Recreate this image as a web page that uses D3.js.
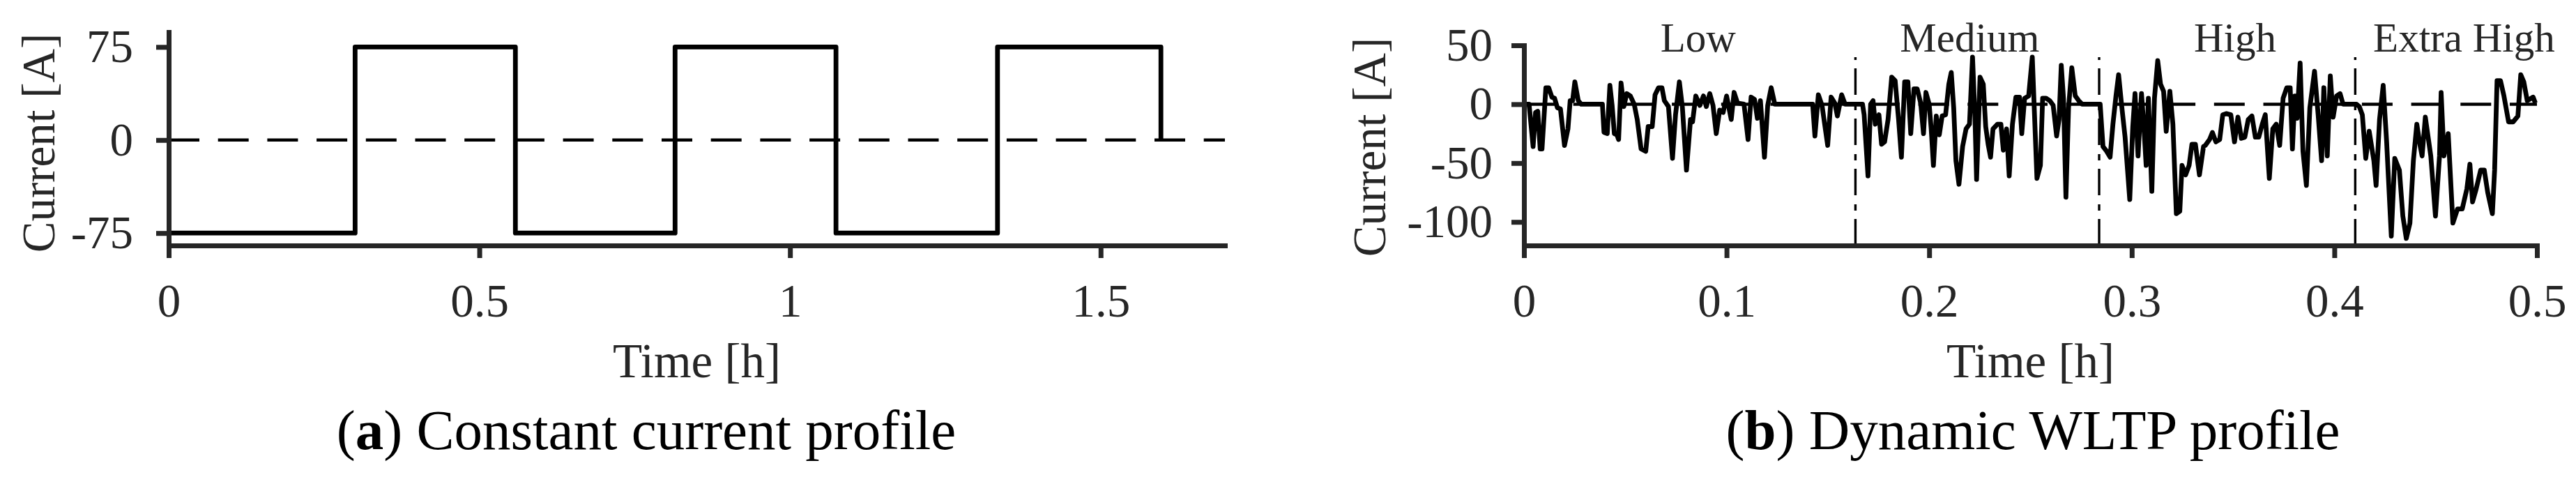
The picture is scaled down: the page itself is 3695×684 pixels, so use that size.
<!DOCTYPE html>
<html>
<head>
<meta charset="utf-8">
<script src="https://cdn.jsdelivr.net/npm/d3@7"></script>
<style>
  body { margin: 0; background: #fff; }
  svg text { font-family: "Liberation Serif", "DejaVu Serif", serif; }
</style>
</head>
<body>
<svg id="chart" width="3695" height="684"></svg>
<script>
// (a) constant current profile: switching instants [h] and the level held after each
const ccSwitchTimes = [0, 0.3, 0.558, 0.815, 1.074, 1.334, 1.597];
const ccLevels = [-75, 75, -75, 75, -75, 75, 0];
const ccTimeTicks = [0, 0.5, 1, 1.5];
const ccCurrentTicks = [-75, 0, 75];

// (b) WLTP current (time in h, current in A)
const wltpTime = [
  // low
  0.0000, 0.0025, 0.0045, 0.0057, 0.0068, 0.0080, 0.0089, 0.0108, 0.0122, 0.0138, 0.0151, 0.0165, 0.0180,
  0.0200, 0.0217, 0.0228, 0.0240, 0.0251, 0.0268, 0.0283, 0.0387, 0.0395, 0.0411, 0.0424, 0.0435, 0.0446,
  0.0459, 0.0467, 0.0479, 0.0493, 0.0507, 0.0525, 0.0544, 0.0559, 0.0578, 0.0601, 0.0613, 0.0633, 0.0647,
  0.0664, 0.0681, 0.0693, 0.0713, 0.0733, 0.0748, 0.0767, 0.0782, 0.0802, 0.0822, 0.0832, 0.0848, 0.0868,
  0.0886, 0.0900, 0.0917, 0.0933, 0.0949, 0.0966, 0.0983, 0.1000, 0.1023, 0.1037, 0.1054, 0.1086, 0.1106,
  0.1121, 0.1138, 0.1152, 0.1167, 0.1187, 0.1203, 0.1220, 0.1238, 0.1425, 0.1436, 0.1453, 0.1471, 0.1499,
  0.1516, 0.1534, 0.1547, 0.1568, 0.1585, 0.1671,
  // medium
  0.1679, 0.1698, 0.1711, 0.1723, 0.1734, 0.1752, 0.1765, 0.1780, 0.1797, 0.1815, 0.1832, 0.1849, 0.1863,
  0.1879, 0.1895, 0.1909, 0.1925, 0.1941, 0.1958, 0.1972, 0.1984, 0.2000, 0.2010, 0.2021, 0.2035, 0.2050,
  0.2064, 0.2081, 0.2097, 0.2109, 0.2121, 0.2132, 0.2147, 0.2165, 0.2182, 0.2199, 0.2214, 0.2226, 0.2234,
  0.2251, 0.2267, 0.2279, 0.2291, 0.2303, 0.2315, 0.2337, 0.2354, 0.2366, 0.2382, 0.2395, 0.2411, 0.2428,
  0.2446, 0.2457, 0.2471, 0.2491, 0.2509, 0.2532, 0.2549, 0.2560, 0.2577, 0.2595, 0.2612, 0.2629, 0.2641,
  0.2652, 0.2663, 0.2675, 0.2688, 0.2704, 0.2721, 0.2738, 0.2755, 0.2844,
  // high
  0.2858, 0.2876, 0.2893, 0.2907, 0.2922, 0.2935, 0.2950, 0.2967, 0.2990, 0.3005, 0.3016, 0.3031, 0.3048,
  0.3059, 0.3071, 0.3082, 0.3099, 0.3112, 0.3128, 0.3142, 0.3157, 0.3170, 0.3188, 0.3203, 0.3220, 0.3237,
  0.3248, 0.3266, 0.3283, 0.3297, 0.3314, 0.3334, 0.3354, 0.3363, 0.3384, 0.3398, 0.3415, 0.3434, 0.3449,
  0.3466, 0.3489, 0.3507, 0.3524, 0.3541, 0.3558, 0.3575, 0.3593, 0.3610, 0.3627, 0.3644, 0.3659, 0.3679,
  0.3696, 0.3713, 0.3730, 0.3747, 0.3765, 0.3782, 0.3793, 0.3805, 0.3816, 0.3831, 0.3845, 0.3862, 0.3879,
  0.3902, 0.3920, 0.3937, 0.3948, 0.3965, 0.3980, 0.3994, 0.4011, 0.4028, 0.4043, 0.4109,
  // extra high
  0.4123, 0.4138, 0.4155, 0.4172, 0.4195, 0.4206, 0.4223, 0.4241, 0.4258, 0.4281, 0.4298, 0.4321, 0.4338,
  0.4355, 0.4373, 0.4390, 0.4407, 0.4424, 0.4433, 0.4449, 0.4476, 0.4499, 0.4519, 0.4527, 0.4541, 0.4562,
  0.4585, 0.4608, 0.4631, 0.4654, 0.4669, 0.4682, 0.4700, 0.4722, 0.4740, 0.4757, 0.4780, 0.4791, 0.4803,
  0.4820, 0.4837, 0.4860, 0.4883, 0.4906, 0.4920, 0.4935, 0.4952, 0.4981, 0.4992
];
const wltpCurrent = [
  // low
  0, 0, -36, -7, -6, -38, -38, 14, 14, 6, 5, -3, -4,
  -35, -21, 3, 3, 19, 3, 0, 0, -24, -25, 16, -1, -25,
  -26, -30, 18, -2, 9, 7, 0, -13, -38, -40, -19, -19, 8,
  14, 14, 3, -2, -46, -9, 19, -3, -56, -13, -15, 7, -1,
  7, -2, 9, -1, -25, -5, -7, 7, -13, 10, 1, 0, -30,
  6, 4, -12, 3, -45, -1, 14, 0, 0, -27, 8, -1, -35,
  6, 1, -10, 8, 0, 0,
  // medium
  -9, -61, 0, 3, -17, -9, -34, -32, -13, 23, 20, -13, -45,
  19, 19, -25, 13, 13, 1, -25, 10, 0, -21, -52, -10, -26,
  -10, -9, 17, 27, -3, -48, -68, -36, -21, -17, 40, -11, -64,
  23, 17, -19, -34, -45, -21, -17, -17, -39, -21, -61, -17, 6,
  6, -25, 5, 7, 40, -63, -52, 5, 5, 3, -1, -27, -13,
  33, 5, -79, -3, 31, 7, 3, 0, 0,
  // high
  -36, -40, -45, -17, 7, 25, -1, -28, -81, -19, 9, -44, 9,
  -17, -52, 5, -74, 5, 37, 17, 11, -23, 11, -17, -93, -91,
  -52, -60, -52, -34, -34, -60, -36, -35, -30, -24, -32, -30, -9,
  -8, -9, -32, -11, -29, -28, -13, -10, -28, -28, -17, -9, -63,
  -21, -17, -35, 5, 14, 14, -38, 7, -12, 35, -40, -69, -3,
  28, -9, -48, 14, -44, 24, -11, 7, 9, 0, 0,
  // extra high
  -2, -9, -46, -23, -48, -69, -13, 16, -32, -112, -46, -56, -95,
  -114, -101, -48, -17, -36, -44, -11, -44, -95, -44, 10, -44, -25,
  -101, -89, -89, -72, -51, -83, -72, -56, -56, -75, -93, -56, 20,
  20, 7, -15, -15, -10, 25, 19, 3, 6, 1
];
const wltpTimeTicks = [0, 0.1, 0.2, 0.3, 0.4, 0.5];
const wltpCurrentTicks = [-100, -50, 0, 50];

// WLTP phases
const phaseBounds = [0.1636, 0.2839, 0.4103];
const phaseNames = ["Low", "Medium", "High", "Extra High"];
const phaseLabelAt = [0.086, 0.220, 0.351, 0.464];

const AXIS_COLOR = "#262626";
const svg = d3.select("#chart");

function drawPanel(p) {
    const x = d3.scaleLinear().domain(p.xDomain).range([p.left, p.right]);
    const y = d3.scaleLinear().domain(p.yDomain).range([p.bottom, p.top]);
    const g = svg.append("g");

    // dashed zero reference
    g.append("path")
        .datum(p.xDomain)
        .attr("d", d3.line().x(d => x(d)).y(() => y(0)))
        .attr("fill", "none")
        .attr("stroke", "#000")
        .attr("stroke-width", 4.5)
        .attr("stroke-dasharray", "44 26.7");

    if (p.extra) p.extra(g, x, y);

    // the trace itself
    g.append("path")
        .datum(p.xs.map((t, i) => [t, p.ys[i]]))
        .attr("d", d3.line().x(d => x(d[0])).y(d => y(d[1])).curve(p.curve || d3.curveLinear))
        .attr("fill", "none")
        .attr("stroke", "#000")
        .attr("stroke-width", 6.8)
        .attr("stroke-linejoin", "round");

    const xAxis = g.append("g")
        .attr("transform", `translate(0,${p.bottom})`)
        .call(d3.axisBottom(x).tickValues(p.xTicks).tickSize(18).tickSizeOuter(0).tickFormat(d => String(d)));
    xAxis.selectAll(".tick text").attr("y", 102).attr("dy", null);

    const yAxis = g.append("g")
        .attr("transform", `translate(${p.left},0)`)
        .call(d3.axisLeft(y).tickValues(p.yTicks).tickSize(18).tickSizeOuter(0)
            .tickPadding(p.yPad).tickFormat(d => String(d)));

    [xAxis, yAxis].forEach(a => {
        a.attr("font-family", null).attr("font-size", 67);
        a.select(".domain").attr("stroke", AXIS_COLOR).attr("stroke-width", 7).attr("stroke-linecap", "square");
        a.selectAll(".tick line").attr("stroke", AXIS_COLOR).attr("stroke-width", 7);
        a.selectAll(".tick text").attr("fill", AXIS_COLOR);
    });

    g.append("text")
        .attr("x", (p.left + p.right) / 2)
        .attr("y", 541)
        .attr("text-anchor", "middle")
        .attr("font-size", 69)
        .attr("fill", AXIS_COLOR)
        .text("Time [h]");

    g.append("text")
        .attr("transform", `translate(${p.ylabelX},${p.ylabelY}) rotate(-90)`)
        .attr("text-anchor", "middle")
        .attr("font-size", 67)
        .attr("fill", AXIS_COLOR)
        .text("Current [A]");

    const cap = g.append("text")
        .attr("x", p.captionX)
        .attr("y", 644)
        .attr("text-anchor", "middle")
        .attr("font-size", 81)
        .attr("fill", "#000");
    cap.append("tspan").text("(");
    cap.append("tspan").attr("font-weight", "bold").text(p.captionTag);
    cap.append("tspan").text(") " + p.caption);
}

drawPanel({
    xs: ccSwitchTimes, ys: ccLevels, curve: d3.curveStepAfter,
    xDomain: [0, 1.7], yDomain: [-85, 87],
    left: 242, right: 1757, top: 46, bottom: 352,
    xTicks: ccTimeTicks, yTicks: ccCurrentTicks, yPad: 33,
    ylabelX: 78, ylabelY: 205,
    captionX: 927, captionTag: "a", caption: "Constant current profile"
});

drawPanel({
    xs: wltpTime, ys: wltpCurrent,
    xDomain: [0, 0.5], yDomain: [-120, 50],
    left: 2186, right: 3639, top: 65, bottom: 352,
    xTicks: wltpTimeTicks, yTicks: wltpCurrentTicks, yPad: 27,
    ylabelX: 1987, ylabelY: 211,
    captionX: 2916, captionTag: "b", caption: "Dynamic WLTP profile",
    extra: (g, x, y) => {
        // dash-dot phase boundaries
        g.selectAll(".phase")
            .data(phaseBounds)
            .enter().append("line")
            .attr("class", "phase")
            .attr("x1", d => x(d)).attr("x2", d => x(d))
            .attr("y1", y(-120)).attr("y2", y(40))
            .attr("stroke", "#000")
            .attr("stroke-width", 3.4)
            .attr("stroke-dasharray", "38 12 9 13");

        g.selectAll(".phase-label")
            .data(phaseNames)
            .enter().append("text")
            .attr("class", "phase-label")
            .attr("x", (d, i) => x(phaseLabelAt[i]))
            .attr("y", 74)
            .attr("text-anchor", "middle")
            .attr("font-size", 59)
            .attr("fill", AXIS_COLOR)
            .text(d => d);
    }
});
</script>
</body>
</html>
